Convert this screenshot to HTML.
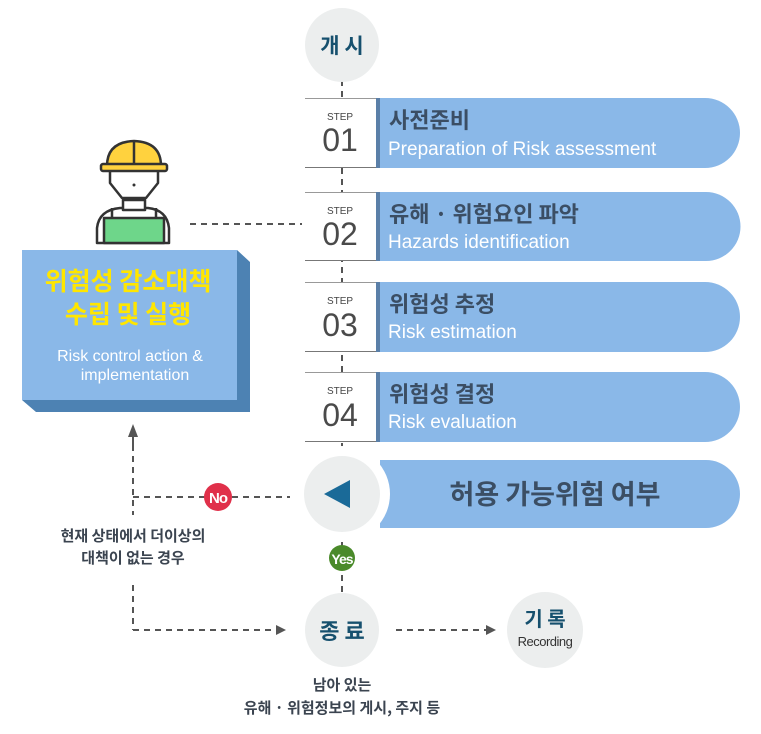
<!DOCTYPE html>
<html><head><meta charset="utf-8"><style>
html,body{margin:0;padding:0;background:#fff;}
svg{display:block}
text{font-family:"Liberation Sans","Noto Sans CJK KR",sans-serif;}
.k{font-family:"Noto Sans CJK KR","Liberation Sans",sans-serif;}
</style></head><body>
<svg width="761" height="734" viewBox="0 0 761 734" xmlns="http://www.w3.org/2000/svg">
<defs>
<marker id="ar" markerWidth="10" markerHeight="10" refX="8" refY="5" orient="auto" markerUnits="userSpaceOnUse"><path d="M0,0 L10,5 L0,10 z" fill="#555"/></marker>
</defs>
<g stroke="#555" stroke-width="2" stroke-dasharray="6,5" fill="none">
<line x1="342" y1="80" x2="342" y2="600"/>
<line x1="190" y1="224" x2="302" y2="224"/>
<line x1="133" y1="445" x2="133" y2="515"/>
<line x1="133" y1="585" x2="133" y2="630"/>
<line x1="133" y1="497" x2="290" y2="497"/>
<line x1="133" y1="630" x2="284" y2="630" marker-end="url(#ar)"/>
<line x1="396" y1="630" x2="494" y2="630" marker-end="url(#ar)"/>
</g>
<path d="M133,424 L128,437 L138,437 z" fill="#555"/>
<rect x="132" y="437" width="2" height="8" fill="#555"/>
<!-- start -->
<circle cx="342" cy="45" r="37" fill="#eceeee"/>
<text x="342" y="53" class="k" font-size="21" font-weight="bold" fill="#16506e" text-anchor="middle">개 시</text>
<!-- steps -->
<g>
<path d="M378,98 H705 A35,35 0 0 1 705,168 H378 z" fill="#8ab8e8"/>
<rect x="305" y="98" width="73" height="70" fill="#fff"/><line x1="305" y1="98.5" x2="378" y2="98.5" stroke="#999"/><line x1="305" y1="167.5" x2="378" y2="167.5" stroke="#777"/>
<rect x="376" y="98" width="4" height="70" fill="#5a7fa8"/>
<text x="340" y="120" font-size="10" fill="#444" text-anchor="middle">STEP</text>
<text x="340" y="151" font-size="32" fill="#4a4a4a" text-anchor="middle">01</text>
<text x="389" y="128" class="k" font-size="22" font-weight="bold" fill="#3b4e64">사전준비</text>
<text x="388" y="155" font-size="19" fill="#fff">Preparation of Risk assessment</text>
</g>
<g>
<path d="M378,192 H706 A34.5,34.5 0 0 1 706,261 H378 z" fill="#8ab8e8"/>
<rect x="305" y="192" width="73" height="69" fill="#fff"/><line x1="305" y1="192.5" x2="378" y2="192.5" stroke="#999"/><line x1="305" y1="260.5" x2="378" y2="260.5" stroke="#777"/>
<rect x="376" y="192" width="4" height="69" fill="#5a7fa8"/>
<text x="340" y="214" font-size="10" fill="#444" text-anchor="middle">STEP</text>
<text x="340" y="245" font-size="32" fill="#4a4a4a" text-anchor="middle">02</text>
<text x="389" y="222" class="k" font-size="22" font-weight="bold" fill="#3b4e64">유해 · 위험요인 파악</text>
<text x="388" y="248" font-size="19" fill="#fff">Hazards identification</text>
</g>
<g>
<path d="M378,282 H705 A35,35 0 0 1 705,352 H378 z" fill="#8ab8e8"/>
<rect x="305" y="282" width="73" height="70" fill="#fff"/><line x1="305" y1="282.5" x2="378" y2="282.5" stroke="#999"/><line x1="305" y1="351.5" x2="378" y2="351.5" stroke="#777"/>
<rect x="376" y="282" width="4" height="70" fill="#5a7fa8"/>
<text x="340" y="304" font-size="10" fill="#444" text-anchor="middle">STEP</text>
<text x="340" y="336" font-size="32" fill="#4a4a4a" text-anchor="middle">03</text>
<text x="389" y="312" class="k" font-size="22" font-weight="bold" fill="#3b4e64">위험성 추정</text>
<text x="388" y="338" font-size="19" fill="#fff">Risk estimation</text>
</g>
<g>
<path d="M378,372 H705 A35,35 0 0 1 705,442 H378 z" fill="#8ab8e8"/>
<rect x="305" y="372" width="73" height="70" fill="#fff"/><line x1="305" y1="372.5" x2="378" y2="372.5" stroke="#999"/><line x1="305" y1="441.5" x2="378" y2="441.5" stroke="#777"/>
<rect x="376" y="372" width="4" height="70" fill="#5a7fa8"/>
<text x="340" y="394" font-size="10" fill="#444" text-anchor="middle">STEP</text>
<text x="340" y="426" font-size="32" fill="#4a4a4a" text-anchor="middle">04</text>
<text x="389" y="402" class="k" font-size="22" font-weight="bold" fill="#3b4e64">위험성 결정</text>
<text x="388" y="428" font-size="19" fill="#fff">Risk evaluation</text>
</g>
<!-- decision -->
<path d="M380,460 H706 A34,34 0 0 1 706,528 H380 z" fill="#8ab8e8"/>
<circle cx="342" cy="494" r="48" fill="#fff"/>
<circle cx="342" cy="494" r="38" fill="#eceeee"/>
<path d="M324,494 L350,480 L350,508 z" fill="#1a6a98"/>
<text x="555" y="504" class="k" font-size="27" font-weight="bold" fill="#3b4e64" text-anchor="middle">허용 가능위험 여부</text>
<circle cx="218" cy="497" r="14" fill="#e0304a"/>
<text x="218" y="503" font-size="15" font-weight="bold" fill="#fff" text-anchor="middle" letter-spacing="-1">No</text>
<circle cx="342" cy="558" r="13" fill="#4a8a2a"/>
<text x="342" y="564" font-size="14" font-weight="bold" fill="#fff" text-anchor="middle" letter-spacing="-1">Yes</text>
<text x="133" y="541" class="k" font-size="15" font-weight="bold" fill="#3b4450" text-anchor="middle">현재 상태에서 더이상의</text>
<text x="133" y="563" class="k" font-size="15" font-weight="bold" fill="#3b4450" text-anchor="middle">대책이 없는 경우</text>
<!-- end -->
<circle cx="342" cy="630" r="37" fill="#eceeee"/>
<text x="342" y="639" class="k" font-size="22" font-weight="bold" fill="#16506e" text-anchor="middle">종 료</text>
<circle cx="545" cy="630" r="38" fill="#eceeee"/>
<text x="545" y="626" class="k" font-size="20" font-weight="bold" fill="#16506e" text-anchor="middle">기 록</text>
<text x="545" y="646" font-size="13" fill="#333" text-anchor="middle" letter-spacing="-0.5">Recording</text>
<text x="342" y="690" class="k" font-size="15" font-weight="bold" fill="#3b4450" text-anchor="middle">남아 있는</text>
<text x="342" y="713" class="k" font-size="15" font-weight="bold" fill="#3b4450" text-anchor="middle">유해 · 위험정보의 게시, 주지 등</text>
<!-- left box -->
<path d="M237,250 L250,262 L250,412 L36,412 L22,400 L237,400 z" fill="#4d82b3"/>
<rect x="22" y="250" width="215" height="150" fill="#8ab8e8"/>
<text x="128" y="290" class="k" font-size="25" font-weight="bold" fill="#ffe600" text-anchor="middle">위험성 감소대책</text>
<text x="128" y="323" class="k" font-size="25" font-weight="bold" fill="#ffe600" text-anchor="middle">수립 및 실행</text>
<text x="130" y="361" font-size="16" fill="#fff" text-anchor="middle">Risk control action &amp;</text>
<text x="135" y="380" font-size="16" fill="#fff" text-anchor="middle">implementation</text>
<!-- worker -->
<g stroke="#333" stroke-width="2.5" stroke-linejoin="round">
<path d="M97,243 L97,228 Q99,210 120,208 L148,208 Q167,210 169,228 L169,243 z" fill="#fff"/>
<rect x="104" y="218" width="60" height="25" fill="#6ed68a"/>
<line x1="112" y1="218" x2="112" y2="208"/><line x1="156" y1="218" x2="156" y2="208"/>
<rect x="123" y="200" width="22" height="10" fill="#fff"/>
<path d="M110,165 L110,183 L122,198 L146,198 L158,183 L158,165 z" fill="#fff"/>
<path d="M107,166 Q107,142 134,141 Q161,142 161,166 z" fill="#ffd23e"/>
<rect x="101" y="164" width="66" height="7" rx="2" fill="#ffd23e"/>
<line x1="134" y1="141" x2="134" y2="165"/>
</g>
<circle cx="134" cy="185" r="1.5" fill="#333"/>
</svg>
</body></html>
